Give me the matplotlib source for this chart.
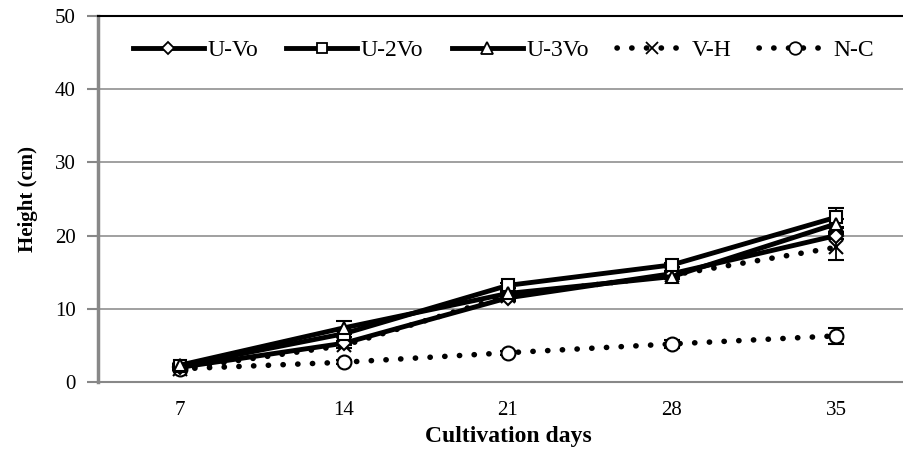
import numpy as np
import matplotlib.pyplot as plt
from matplotlib.lines import Line2D

plt.rcParams['font.family'] = ['Liberation Serif', 'DejaVu Serif']

days = ['7', '14', '21', '28', '35']
u_vo = [2.0, 5.3, 11.5, 14.8, 20.0]
u_2vo = [2.2, 6.6, 13.2, 16.0, 22.5]
u_3vo = [2.3, 7.4, 12.1, 14.4, 21.6]
v_h = [1.8, 5.0, 11.8, 14.6, 18.4]
n_c = [1.8, 2.7, 4.0, 5.2, 6.3]

u_vo_err = [0.2, 0.3, 0.4, 0.3, 0.5]
u_2vo_err = [0.2, 0.4, 0.3, 0.3, 1.3]
u_3vo_err = [0.2, 0.9, 0.4, 0.3, 0.6]
v_h_err = [0.2, 0.3, 0.4, 0.3, 1.8]
n_c_err = [0.2, 0.3, 0.3, 0.6, 1.1]

DOTS = (0, (0.05, 2.6))

fig = plt.figure(figsize=(9.04, 4.5), dpi=100)
# plot area runs a little past the right edge of the canvas
ax = fig.add_axes([98 / 904, 68 / 450, 820 / 904, 366 / 450])

x = np.arange(len(days))

series = [
    ('U-Vo', u_vo, u_vo_err, 'D', '-', 7),
    ('U-2Vo', u_2vo, u_2vo_err, 's', '-', 8),
    ('U-3Vo', u_3vo, u_3vo_err, '^', '-', 9),
    ('V-H', v_h, v_h_err, 'x', DOTS, 10),
    ('N-C', n_c, n_c_err, 'o', DOTS, 10),
]

handles = []
for name, vals, err, mk, ls, ms in series:
    solid = ls == '-'
    lw = 3.5 if solid else 4.0
    # dotted series sit underneath the solid ones
    cont = ax.errorbar(x, vals, yerr=err, color='black', linestyle=ls,
                       linewidth=lw, marker=mk, markersize=ms,
                       markerfacecolor='white', markeredgecolor='black',
                       markeredgewidth=1.5, ecolor='black', elinewidth=1.3,
                       capsize=6, capthick=1.3, zorder=3 if solid else 2)
    cont.lines[0].set_dash_capstyle('round')
    h = Line2D([], [], color='black', linestyle=ls, linewidth=lw,
               marker=mk, markersize=ms - 1, markerfacecolor='white',
               markeredgecolor='black', markeredgewidth=1.3,
               dash_capstyle='round')
    handles.append((h, name))

ax.set_xlim(-0.5, len(days) - 0.5)
ax.set_ylim(0, 50)
ax.set_yticks(np.arange(0, 51, 10))
ax.set_xticks(x)
ax.set_xticklabels(days)
ax.tick_params(axis='both', labelsize=15)
ax.tick_params(axis='x', length=0, pad=14)
ax.tick_params(axis='y', length=8, width=1.5, color='#888888', pad=8)

ax.yaxis.grid(True, color='#999999', linewidth=1.3)
ax.set_axisbelow(True)
ax.spines['right'].set_visible(False)
ax.spines['top'].set_color('black')
ax.spines['top'].set_linewidth(1.5)
ax.spines['left'].set_color('#888888')
ax.spines['left'].set_linewidth(2.5)
ax.spines['bottom'].set_color('#888888')
ax.spines['bottom'].set_linewidth(1.5)

ax.set_xlabel('Cultivation days', fontsize=17, fontweight='bold', labelpad=4)
ax.set_ylabel('Height (cm)', fontsize=15, fontweight='bold', labelpad=12)

fig.legend([h for h, _ in handles], [n for _, n in handles],
           loc='center left', bbox_to_anchor=(133 / 904, 1 - 50 / 450),
           ncol=5, frameon=False, fontsize=17, borderpad=0, borderaxespad=0,
           handlelength=3.0, handletextpad=0.15, columnspacing=1.2)

fig.savefig('out.png', dpi=100)
